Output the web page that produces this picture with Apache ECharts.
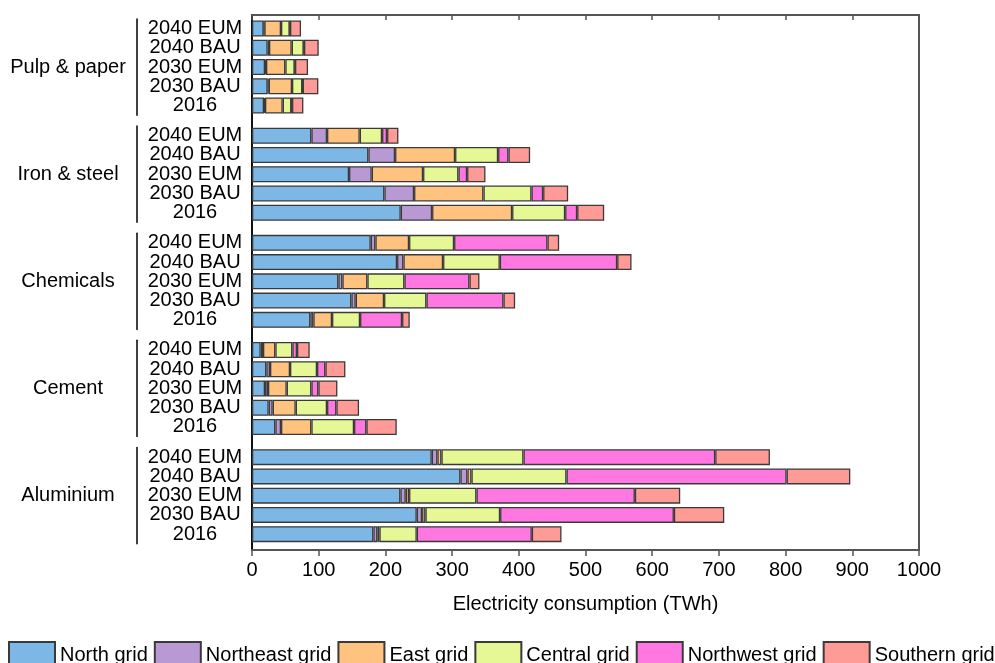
<!DOCTYPE html>
<html>
<head>
<meta charset="utf-8">
<title>Industrial electricity consumption by grid</title>
<script src="https://cdn.jsdelivr.net/npm/echarts@6/dist/echarts.min.js"></script>
<style>
  html, body { margin: 0; padding: 0; background: #fff; }
  #chart { width: 995px; height: 663px; }
</style>
</head>
<body>
<div id="chart"></div>
<script>
// Sectors, top to bottom
const sectors = ['Pulp & paper', 'Iron & steel', 'Chemicals', 'Cement', 'Aluminium'];
// Scenarios within each sector, top to bottom
const scenarios = ['2040 EUM', '2040 BAU', '2030 EUM', '2030 BAU', '2016'];
// Regional grids (legend order)
const gridNames = ['North grid', 'Northeast grid', 'East grid', 'Central grid', 'Northwest grid', 'Southern grid'];
// X axis ticks (TWh)
const xTicks = [0, 100, 200, 300, 400, 500, 600, 700, 800, 900, 1000];

// Electricity consumption, TWh; one row per sector, values in scenario order
const northGrid = [
  [17.5, 23.5, 19.5, 23.5, 18],
  [89, 174.5, 145.5, 198.5, 223],
  [178, 217.5, 129.5, 149, 87.5],
  [13, 21.5, 19.5, 25, 35],
  [269.5, 312.5, 222.5, 247, 182]
];
const northeastGrid = [
  [1, 2, 1.5, 1.5, 1.5],
  [23.5, 40, 34, 44.5, 47],
  [7, 9.5, 6, 6.5, 4.5],
  [3.5, 5.5, 4.5, 6, 8.5],
  [8.5, 10.5, 8, 8, 6]
];
const eastGrid = [
  [25, 34, 29, 35, 26.5],
  [49, 90, 77, 104, 120],
  [50.5, 59.5, 37.5, 42.5, 28],
  [18.5, 30, 28, 34.5, 45.5],
  [6, 6, 5, 5, 3]
];
const centralGrid = [
  [13, 18, 14, 15.5, 13],
  [33.5, 64.5, 53, 72, 79.5],
  [67.5, 85, 55.5, 63.5, 42],
  [25.5, 40.5, 37, 47, 64],
  [123, 142.5, 101, 112, 56]
];
const northwestGrid = [
  [0.5, 0.5, 0.5, 0.5, 1],
  [7.5, 15.5, 13, 17.5, 18],
  [140, 176, 97.5, 115.5, 63],
  [7, 12.5, 10.5, 14, 18.5],
  [287.5, 330, 237.5, 260.5, 172.5]
];
const southernGrid = [
  [16.5, 22, 19.5, 23.5, 17],
  [17, 32.5, 27.5, 37.5, 40.5],
  [17.5, 21.5, 15, 17.5, 11.5],
  [19, 30, 28.5, 34, 45.5],
  [82, 95.5, 68, 75.5, 44.5]
];

const regionData = [northGrid, northeastGrid, eastGrid, centralGrid, northwestGrid, southernGrid];
const colors = ['#7DB7E6', '#B899D3', '#FFC27F', '#E6F795', '#FF78E2', '#FF9B96'];

const FONT = 'Liberation Sans, Arial, sans-serif';
const plotLeft = 252, plotRight = 76, plotTop = 15, plotBottom = 113;
const rowStep = 19.25;           // distance between bars in a sector
const sectorGap = 10.9;          // extra space between sectors
const firstTop = 18.9;
const groupH = rowStep * scenarios.length;

const grids = [], xAxes = [], yAxes = [], series = [];

sectors.forEach((sector, i) => {
  grids.push({
    left: plotLeft, right: plotRight,
    top: firstTop + i * (groupH + sectorGap),
    height: groupH,
    outerBoundsMode: 'none'
  });
  xAxes.push({ gridIndex: i, type: 'value', min: 0, max: 1000, show: false });
  // scenario labels
  yAxes.push({
    gridIndex: i, type: 'category', inverse: true, data: scenarios, position: 'left',
    axisLine: { show: false }, axisTick: { show: false }, splitLine: { show: false },
    axisLabel: { interval: 0, margin: 57, align: 'center', fontSize: 20, color: '#000', fontFamily: FONT }
  });
  // sector bracket line and name
  yAxes.push({
    gridIndex: i, type: 'category', inverse: true, data: scenarios, position: 'left', offset: 115,
    axisLine: { show: true, lineStyle: { color: '#000', width: 1.5 } },
    axisTick: { show: false }, axisLabel: { show: false }, splitLine: { show: false },
    name: sector, nameLocation: 'middle', nameRotate: 0, nameGap: 69,
    nameTextStyle: { fontSize: 20, color: '#000', align: 'center', verticalAlign: 'middle', fontFamily: FONT }
  });
  gridNames.forEach((name, k) => {
    series.push({
      name: name, type: 'bar', stack: 'sector' + i,
      xAxisIndex: i, yAxisIndex: i * 2,
      barWidth: 16,
      data: regionData[k][i],
      itemStyle: { color: colors[k], borderColor: '#3a3a3a', borderWidth: 1.3 },
      emphasis: { disabled: true }
    });
  });
});

// Frame around the plot with value ticks
const frame = sectors.length;
grids.push({
  left: plotLeft, right: plotRight, top: plotTop, bottom: plotBottom,
  outerBoundsMode: 'none',
  show: true, borderColor: '#555', borderWidth: 2, backgroundColor: 'transparent'
});
xAxes.push({
  gridIndex: frame, type: 'value', min: xTicks[0], max: xTicks[xTicks.length - 1],
  interval: xTicks[1] - xTicks[0], position: 'bottom',
  axisLine: { show: true, lineStyle: { color: '#555', width: 2 } },
  axisTick: { show: true, length: 6, lineStyle: { color: '#555', width: 1.5 } },
  splitLine: { show: false },
  axisLabel: { fontSize: 20, color: '#000', margin: 10, fontFamily: FONT,
    formatter: v => String(v) },
  name: 'Electricity consumption (TWh)', nameLocation: 'middle', nameGap: 44,
  nameTextStyle: { fontSize: 20, color: '#000', fontFamily: FONT }
});
xAxes.push({
  gridIndex: frame, type: 'value', min: 0, max: 1000, interval: 100, position: 'top',
  axisLine: { show: true, lineStyle: { color: '#555', width: 2 } },
  axisTick: { show: true, inside: true, length: 5, lineStyle: { color: '#555', width: 1.5 } },
  axisLabel: { show: false }, splitLine: { show: false }
});
yAxes.push({
  gridIndex: frame, type: 'value', min: 0, max: 1, position: 'left',
  axisLine: { show: true, lineStyle: { color: '#111', width: 2 } },
  axisTick: { show: false }, axisLabel: { show: false }, splitLine: { show: false }
});

const chart = echarts.init(document.getElementById('chart'), null, { renderer: 'canvas' });
chart.setOption({
  backgroundColor: '#fff',
  animation: false,
  textStyle: { fontFamily: FONT },
  grid: grids,
  xAxis: xAxes,
  yAxis: yAxes,
  legend: {
    data: gridNames, left: 8, top: 641, width: 995, padding: 0, icon: 'rect',
    itemWidth: 46, itemHeight: 26, itemGap: 6,
    textStyle: { fontSize: 20, color: '#000', fontFamily: FONT },
    selectedMode: false
  },
  series: series
});
</script>
</body>
</html>
